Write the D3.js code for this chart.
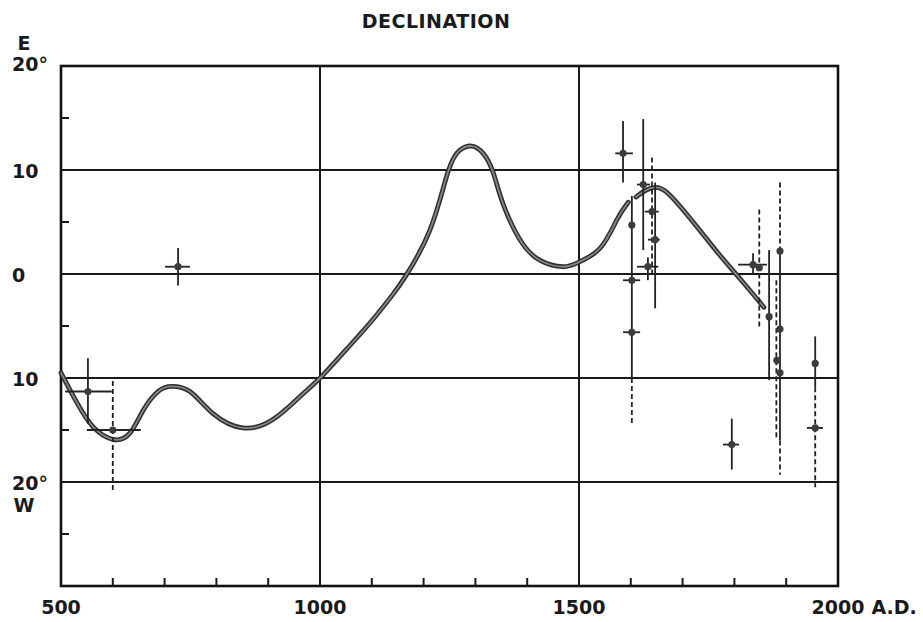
<!DOCTYPE html>
<html lang="en">
    <head>
        <meta charset="UTF-8" />
        <title>Declination</title>
        <style>
            body {
                margin: 0;
                background: #fff;
            }

            text {
                font-family: 'DejaVu Sans', sans-serif;
                font-weight: bold;
                fill: #1a1a1a;
            }

            .grid {
                stroke: #1a1a1a;
                stroke-width: 2;
            }

            .bar {
                stroke: #222;
                stroke-width: 1.8;
            }

            .bar--dashed {
                stroke-dasharray: 5, 3;
            }
        </style>
    </head>

    <body>
        <svg width="923" height="622"></svg>
        <script src="https://d3js.org/d3.v7.min.js"></script>
        <script>
            // smoothed declination curve (null = break in the drawn line)
            const curveYears = [
                500, 531, 562, 600, 633, 660, 690, 714, 749, 793, 851, 909, 961, 1000, 1050, 1100, 1140, 1164, 1212,
                1247, 1270, 1293, 1315, 1334, 1353, 1386, 1425, 1469, 1498, 1541, 1573, 1595, 1602, 1610, 1631, 1653,
                1681, 1730, 1772, 1815, 1857,
            ];
            const curveValues = [
                -9.5, -12.4, -14.7, -15.9, -15.3, -13.0, -11.2, -10.8, -11.3, -13.4, -14.8, -14.0, -11.8, -10.0, -7.3,
                -4.5, -2.0, -0.3, 4.2, 9.8, 11.9, 12.3, 11.6, 9.8, 6.8, 3.3, 1.3, 0.7, 1.1, 2.5, 5.2, 6.9, null, 7.4,
                8.1, 8.3, 7.3, 4.4, 1.8, -0.7, -3.2,
            ];

            // observations: dot + optional horizontal (date) range
            const pointYears = [
                552, 600, 726, 1585, 1624, 1641, 1647, 1633, 1602, 1602, 1602, 1836, 1848, 1867, 1882, 1888, 1888,
                1888, 1795, 1956, 1956,
            ];
            const pointValues = [
                -11.3, -15.0, 0.7, 11.6, 8.6, 6.0, 3.3, 0.7, 4.7, -0.6, -5.6, 0.9, 0.6, -4.1, -8.3, 2.2, -5.3, -9.5,
                -16.4, -8.6, -14.8,
            ];
            const pointFrom = [
                508, 550, 701, 1570, 1612, 1627, 1633, 1612, null, 1585, 1585, 1807, null, null, null, null, null,
                null, 1778, null, 1940,
            ];
            const pointTo = [
                598, 654, 749, 1604, 1637, 1654, 1656, 1653, null, 1618, 1618, 1863, null, null, null, null, null,
                null, 1809, null, 1971,
            ];

            // vertical (declination) ranges
            const barYears = [
                552, 726, 1585, 1624, 1647, 1633, 1602, 1836, 1867, 1888, 1795, 1956, 600, 1641, 1602, 1848, 1881,
                1888, 1888, 1956,
            ];
            const barHigh = [
                -8.1, 2.5, 14.7, 14.9, 8.8, 1.6, 7.5, 2.0, 2.3, 2.6, -13.9, -6.0, -10.3, 11.2, -10.0, 6.2, -0.6, 8.8,
                -16.0, -10.9,
            ];
            const barLow = [
                -14.4, -1.1, 8.8, 2.3, -3.3, -0.6, -10.0, -0.1, -10.2, -16.0, -18.8, -10.9, -20.8, -0.3, -14.4, -5.2,
                -15.7, 2.6, -19.3, -20.5,
            ];
            const barDashed = [
                false, false, false, false, false, false, false, false, false, false, false, false, true, true, true,
                true, true, true, true, true,
            ];

            const yLabelValues = [20, 10, 0, -10, -20];
            const yLabels = ['20°', '10', '0', '10', '20°'];
            const yMinorTicks = [15, 5, -5, -15, -25];
            const yGrid = [10, 0, -10, -20];
            const xLabelValues = [500, 1000, 1500, 2000];
            const xLabels = ['500', '1000', '1500', '2000'];
            const xMinorTicks = [600, 700, 800, 900, 1100, 1200, 1300, 1400, 1600, 1700, 1800, 1900];
            const xGrid = [1000, 1500];

            const svg = d3.select('svg');
            const plotLeft = 61,
                plotRight = 838,
                plotTop = 66,
                plotBottom = 586;

            const x = d3.scaleLinear().domain([500, 2000]).range([plotLeft, plotRight]);
            const y = d3.scaleLinear().domain([-30, 20]).range([plotBottom, plotTop]);

            // title
            svg.append('text')
                .attr('x', 436)
                .attr('y', 28)
                .attr('text-anchor', 'middle')
                .style('font-size', '19px')
                .style('letter-spacing', '0.5px')
                .text('DECLINATION');

            // grid lines
            svg.selectAll('line.hgrid')
                .data(yGrid)
                .enter()
                .append('line')
                .attr('class', 'grid')
                .attr('x1', plotLeft)
                .attr('x2', plotRight)
                .attr('y1', (d) => y(d))
                .attr('y2', (d) => y(d));

            svg.selectAll('line.vgrid')
                .data(xGrid)
                .enter()
                .append('line')
                .attr('class', 'grid')
                .attr('x1', (d) => x(d))
                .attr('x2', (d) => x(d))
                .attr('y1', plotTop)
                .attr('y2', plotBottom);

            // minor ticks, drawn inward
            svg.selectAll('line.ytick')
                .data(yMinorTicks)
                .enter()
                .append('line')
                .attr('class', 'grid')
                .attr('x1', plotLeft)
                .attr('x2', plotLeft + 8)
                .attr('y1', (d) => y(d))
                .attr('y2', (d) => y(d));

            svg.selectAll('line.xtick')
                .data(xMinorTicks)
                .enter()
                .append('line')
                .attr('class', 'grid')
                .attr('x1', (d) => x(d))
                .attr('x2', (d) => x(d))
                .attr('y1', plotBottom)
                .attr('y2', plotBottom - 8);

            // frame
            svg.append('rect')
                .attr('x', plotLeft)
                .attr('y', plotTop)
                .attr('width', plotRight - plotLeft)
                .attr('height', plotBottom - plotTop)
                .attr('fill', 'none')
                .attr('stroke', '#111')
                .attr('stroke-width', 2.6);

            // y labels
            svg.selectAll('text.ylab')
                .data(yLabelValues)
                .enter()
                .append('text')
                .attr('x', 12)
                .attr('y', (d, i) => y(d) + (i === 0 ? -2 : 1))
                .attr('dominant-baseline', 'central')
                .style('font-size', '19px')
                .text((d, i) => yLabels[i]);

            svg.append('text').attr('x', 24).attr('y', 50).attr('text-anchor', 'middle').style('font-size', '19px').text('E');
            svg.append('text').attr('x', 24).attr('y', 512).attr('text-anchor', 'middle').style('font-size', '19px').text('W');

            // x labels
            const xl = svg
                .selectAll('text.xlab')
                .data(xLabelValues)
                .enter()
                .append('text')
                .attr('x', (d) => x(d))
                .attr('y', 614)
                .attr('text-anchor', 'middle')
                .style('font-size', '19px')
                .text((d, i) => xLabels[i]);

            const lastLabel = xl.filter((d) => d === 2000).node();
            svg.append('text')
                .attr('x', x(2000) + lastLabel.getComputedTextLength() / 2 + 7)
                .attr('y', 614)
                .style('font-size', '19px')
                .text('A.D.');

            // curve
            const line = d3
                .line()
                .defined((d) => d[1] !== null)
                .x((d) => x(d[0]))
                .y((d) => y(d[1]))
                .curve(d3.curveNatural);

            const curveData = curveYears.map((yr, i) => [yr, curveValues[i]]);

            svg.append('path')
                .datum(curveData)
                .attr('d', line)
                .attr('fill', 'none')
                .attr('stroke', '#2e2e2e')
                .attr('stroke-width', 4.8)
                .attr('stroke-linecap', 'round');

            svg.append('path')
                .datum(curveData)
                .attr('d', line)
                .attr('fill', 'none')
                .attr('stroke', '#858585')
                .attr('stroke-width', 1.8)
                .attr('stroke-linecap', 'round');

            // vertical error bars
            svg.selectAll('line.vbar')
                .data(barYears)
                .enter()
                .append('line')
                .attr('class', (d, i) => 'bar' + (barDashed[i] ? ' bar--dashed' : ''))
                .attr('x1', (d) => x(d))
                .attr('x2', (d) => x(d))
                .attr('y1', (d, i) => y(barHigh[i]))
                .attr('y2', (d, i) => y(barLow[i]));

            // horizontal date ranges
            const withRange = d3.range(pointYears.length).filter((i) => pointFrom[i] !== null);
            svg.selectAll('line.hbar')
                .data(withRange)
                .enter()
                .append('line')
                .attr('class', 'bar')
                .attr('x1', (i) => x(pointFrom[i]))
                .attr('x2', (i) => x(pointTo[i]))
                .attr('y1', (i) => y(pointValues[i]))
                .attr('y2', (i) => y(pointValues[i]));

            // dots
            svg.selectAll('circle.pt')
                .data(pointYears)
                .enter()
                .append('circle')
                .attr('cx', (d) => x(d))
                .attr('cy', (d, i) => y(pointValues[i]))
                .attr('r', 3.6)
                .attr('fill', '#3c3c3c');
        </script>
    </body>
</html>
